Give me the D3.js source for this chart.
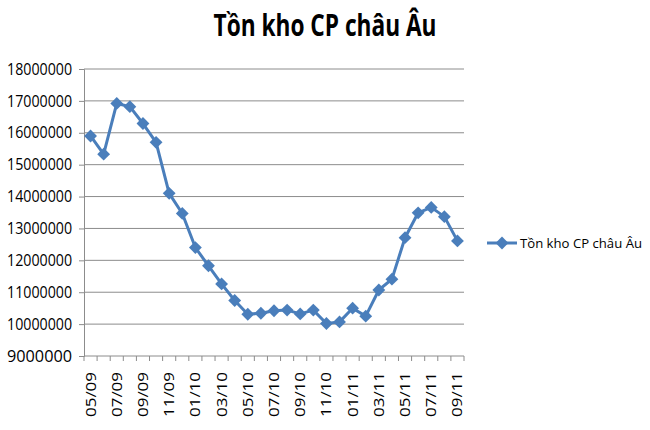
<!DOCTYPE html>
<html><head><meta charset="utf-8">
<script src="https://cdn.jsdelivr.net/npm/d3@7"></script>
<style>body{margin:0;background:#fff}svg{display:block}</style>
</head><body>
<svg id="c" width="650" height="430"></svg>
<script>
const title = "Tồn kho CP châu Âu";
const seriesName = "Tồn kho CP châu Âu";
const categories = ["05/09","06/09","07/09","08/09","09/09","10/09","11/09","12/09",
  "01/10","02/10","03/10","04/10","05/10","06/10","07/10","08/10","09/10","10/10","11/10","12/10",
  "01/11","02/11","03/11","04/11","05/11","06/11","07/11","08/11","09/11"];
const values = [15900000,15330000,16920000,16820000,16290000,15700000,14100000,13470000,
  12400000,11830000,11260000,10740000,10310000,10340000,10420000,10440000,10320000,10440000,10020000,10070000,
  10500000,10250000,11070000,11410000,12710000,13490000,13660000,13370000,12610000];
const yTicks = [9000000,10000000,11000000,12000000,13000000,14000000,15000000,16000000,17000000,18000000];
const xLabels = ["05/09","07/09","09/09","11/09","01/10","03/10","05/10","07/10","09/10","11/10","01/11","03/11","05/11","07/11","09/11"];

const svg = d3.select("#c");
const L = 84, R = 464, T = 69, B = 356;
const color = "#4A7EBB";
const font = "'Liberation Sans Narrow','Open Sans',Arial,sans-serif";

const x = d3.scaleBand().domain(categories).range([L, R]).paddingInner(0).paddingOuter(0);
const y = d3.scaleLinear().domain([9000000, 18000000]).range([B, T]);

// gridlines
svg.append("g").selectAll("line").data(yTicks.slice(1)).join("line")
  .attr("x1", L).attr("x2", R).attr("y1", d => y(d)).attr("y2", d => y(d))
  .attr("stroke", "#8c8c8c").attr("stroke-width", 1);

// y axis
const ya = svg.append("g").attr("transform", `translate(${L},0)`)
  .call(d3.axisLeft(y).tickValues(yTicks).tickSize(5).tickPadding(7).tickFormat(d3.format("d")));
ya.select(".domain").attr("stroke", "#8c8c8c");
ya.selectAll(".tick line").attr("stroke", "#8c8c8c");
ya.selectAll(".tick text").attr("font-family", font).attr("font-size", 16).attr("fill", "#000")
  .attr("textLength", 65).attr("lengthAdjust", "spacingAndGlyphs");

// x axis: ticks at category boundaries
const bounds = categories.map(c => x(c)).concat([R]);
const xa = svg.append("g");
xa.append("line").attr("x1", L).attr("x2", R).attr("y1", B).attr("y2", B).attr("stroke", "#8c8c8c");
xa.selectAll("line.t").data(bounds).join("line").attr("class", "t")
  .attr("x1", d => d).attr("x2", d => d).attr("y1", B).attr("y2", B + 5).attr("stroke", "#8c8c8c");
xa.selectAll("text").data(xLabels).join("text")
  .attr("transform", d => `translate(${x(d) + x.bandwidth() / 2 + 5},${372}) rotate(-90)`)
  .attr("text-anchor", "end").attr("font-family", font).attr("font-size", 15).attr("fill", "#000")
  .attr("textLength", 45).attr("lengthAdjust", "spacingAndGlyphs")
  .text(d => d);

// line
const pts = categories.map((c, i) => [x(c) + x.bandwidth() / 2, y(values[i])]);
svg.append("path").attr("d", d3.line()(pts)).attr("fill", "none")
  .attr("stroke", color).attr("stroke-width", 3).attr("stroke-linejoin", "round");
const diamond = d3.symbol().type(d3.symbolDiamond2).size(105);
svg.append("g").selectAll("path").data(pts).join("path")
  .attr("transform", d => `translate(${d[0]},${d[1]})`).attr("d", diamond()).attr("fill", color);

// title
svg.append("text").attr("x", 325).attr("y", 36).attr("text-anchor", "middle")
  .attr("font-family", font).attr("font-weight", "bold").attr("font-size", 30).attr("fill", "#000")
  .attr("textLength", 223).attr("lengthAdjust", "spacingAndGlyphs").text(title);

// legend
const lg = svg.append("g").attr("transform", "translate(487,243)");
lg.append("line").attr("x1", 0).attr("x2", 30).attr("y1", 0).attr("y2", 0).attr("stroke", color).attr("stroke-width", 3);
lg.append("path").attr("transform", "translate(15,0)").attr("d", diamond()).attr("fill", color);
lg.append("text").attr("x", 33).attr("y", 5).attr("font-family", font).attr("font-size", 13.5).attr("fill", "#000")
  .attr("textLength", 122).attr("lengthAdjust", "spacingAndGlyphs").text(seriesName);
</script>
</body></html>
